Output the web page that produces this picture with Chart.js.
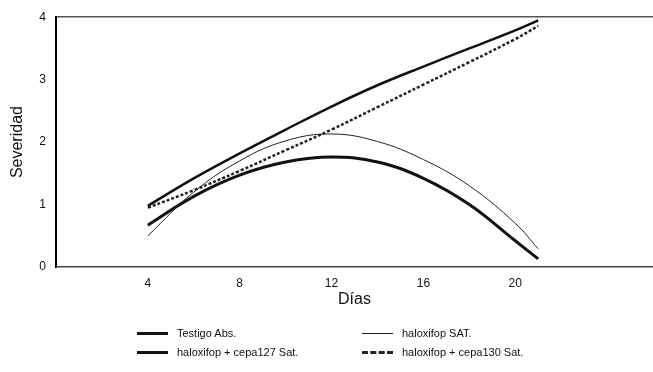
<!DOCTYPE html>
<html>
<head>
<meta charset="utf-8">
<script src="https://cdn.jsdelivr.net/npm/chart.js@4/dist/chart.umd.min.js"></script>
<style>
  body { margin: 0; background: #fff; }
  #wrap { position: relative; width: 653px; height: 372px; }
  #legend { position: absolute; left: 0; top: 0; width: 653px; height: 372px; pointer-events: none;
            font-family: "Liberation Sans", Arial, sans-serif; font-size: 11px; color: #111; }
  .item { position: absolute; display: flex; align-items: center; height: 14px; }
  .swatch { width: 31px; margin-right: 9px; }
</style>
</head>
<body>
<div id="wrap">
  <canvas id="myChart"></canvas>
  <div id="legend"></div>
</div>
<script>
// days sampled along each fitted curve
const days = [4, 6, 8, 10, 12, 14, 16, 18, 20, 21];
const testigo = [0.98, 1.42, 1.82, 2.20, 2.57, 2.91, 3.21, 3.50, 3.79, 3.95];
const haloxSat = [0.50, 1.20, 1.70, 2.02, 2.13, 2.01, 1.72, 1.30, 0.70, 0.29];
const cepa127 = [0.67, 1.13, 1.47, 1.68, 1.76, 1.68, 1.42, 1.00, 0.42, 0.13];
const cepa130 = [0.95, 1.23, 1.54, 1.87, 2.20, 2.56, 2.92, 3.28, 3.65, 3.86];
const xTicks = [4, 8, 12, 16, 20];
const yTicks = [0, 1, 2, 3, 4];
const seriesNames = ['Testigo Abs.', 'haloxifop SAT.', 'haloxifop + cepa127 Sat.', 'haloxifop + cepa130 Sat.'];

const toPoints = vals => vals.map((v, i) => ({ x: days[i], y: v }));
const font = 'Liberation Sans, Arial, sans-serif';

const datasets = [
    { label: seriesNames[0], data: toPoints(testigo), borderColor: '#111', borderWidth: 2.5 },
    { label: seriesNames[1], data: toPoints(haloxSat), borderColor: '#222', borderWidth: 1 },
    { label: seriesNames[2], data: toPoints(cepa127), borderColor: '#111', borderWidth: 3 },
    { label: seriesNames[3], data: toPoints(cepa130), borderColor: '#222', borderWidth: 2.5, borderDash: [3, 2] }
].map(d => Object.assign(d, { pointRadius: 0, fill: false, tension: 0.4 }));

const canvas = document.getElementById('myChart');
new Chart(canvas.getContext('2d'), {
    type: 'line',
    data: { datasets: datasets },
    options: {
        responsive: true,
        maintainAspectRatio: false,
        animation: false,
        layout: { padding: { top: 15, right: 0, bottom: 60, left: 0 } },
        plugins: { legend: { display: false }, tooltip: { enabled: false } },
        scales: {
            x: {
                type: 'linear', min: 0, max: 26,
                afterBuildTicks: s => { s.ticks = xTicks.map(v => ({ value: v })); },
                afterFit: s => { s.height = 45; },
                grid: { display: false, drawTicks: false },
                border: { color: '#444', width: 1.5 },
                ticks: { color: '#111', font: { family: font, size: 12 }, padding: 9 },
                title: { display: true, text: 'Días', color: '#111', font: { family: font, size: 16 }, padding: { top: 0, bottom: 3 } }
            },
            xTop: {
                type: 'linear', position: 'top', min: 0, max: 26,
                afterFit: s => { s.height = 0; },
                grid: { display: false, drawTicks: false },
                border: { color: '#555', width: 1.5 },
                ticks: { display: false }
            },
            y: {
                min: 0, max: 4,
                afterBuildTicks: s => { s.ticks = yTicks.map(v => ({ value: v })); },
                afterFit: s => { s.width = 56; },
                grid: { display: false, drawTicks: false },
                border: { color: '#000', width: 2 },
                ticks: { color: '#111', font: { family: font, size: 12 }, padding: 10 },
                title: { display: true, text: 'Severidad', color: '#111', font: { family: font, size: 16 }, padding: { top: 8, bottom: 0 } }
            }
        }
    }
});

// two-column legend under the axis title
const legendSpots = [[137, 326], [362, 326], [137, 345], [362, 345]];
const legend = document.getElementById('legend');
datasets.forEach((d, i) => {
    const item = document.createElement('div');
    item.className = 'item';
    item.style.left = legendSpots[i][0] + 'px';
    item.style.top = legendSpots[i][1] + 'px';
    const sw = document.createElement('div');
    sw.className = 'swatch';
    const style = d.borderDash ? 'dashed' : 'solid';
    sw.style.borderTop = Math.max(1, Math.round(d.borderWidth)) + 'px ' + style + ' ' + d.borderColor;
    item.appendChild(sw);
    const txt = document.createElement('span');
    txt.textContent = d.label;
    item.appendChild(txt);
    legend.appendChild(item);
});
</script>
</body>
</html>
